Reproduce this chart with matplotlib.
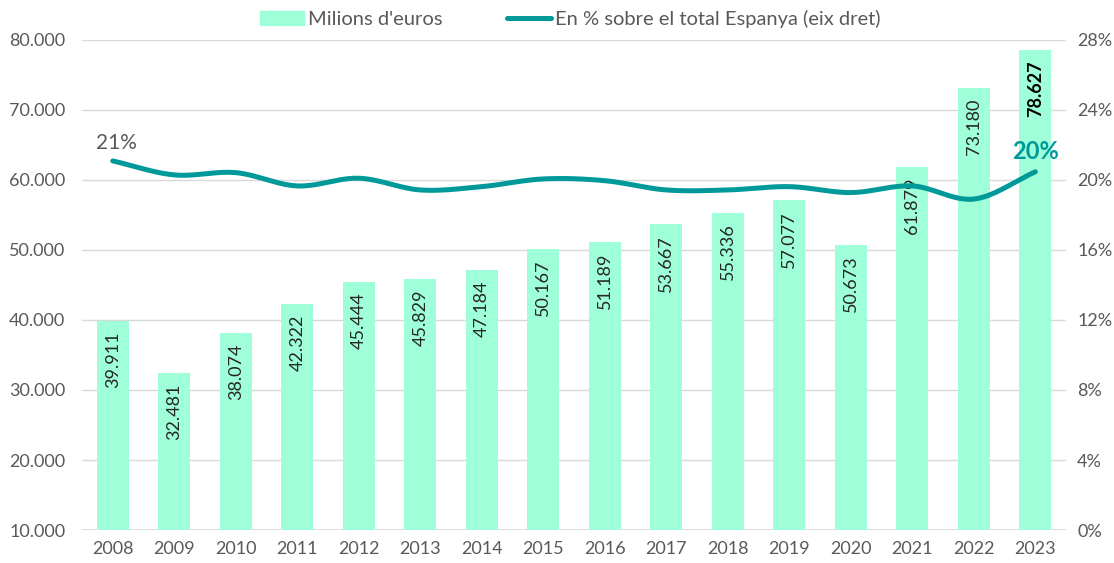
"""Bars (milions d'euros) with share of Spain total on a secondary axis."""
import numpy as np
import matplotlib.pyplot as plt
from matplotlib.ticker import FuncFormatter, MultipleLocator
from matplotlib.patches import Patch
from matplotlib.lines import Line2D

years = [str(y) for y in range(2008, 2024)]
milions = [39911, 32481, 38074, 42322, 45444, 45829, 47184, 50167,
           51189, 53667, 55336, 57077, 50673, 61879, 73180, 78627]
pct_spain = [21.09, 20.29, 20.42, 19.66, 20.10, 19.43, 19.62, 20.06,
             19.96, 19.43, 19.43, 19.62, 19.28, 19.66, 18.91, 20.47]

BAR = "#9effd8"
LINE = "#00999a"
GREY = "#595959"
GRID = "#d9d9d9"

plt.rcParams["font.family"] = ["Lato", "DejaVu Sans"]


def smooth(x, y, n=20):
    # Catmull-Rom through the points, like Excel's smoothed line
    x = np.asarray(x, float)
    y = np.asarray(y, float)
    px = np.concatenate([[2 * x[0] - x[1]], x, [2 * x[-1] - x[-2]]])
    py = np.concatenate([[2 * y[0] - y[1]], y, [2 * y[-1] - y[-2]]])
    xs, ys = [], []
    t = np.linspace(0, 1, n, endpoint=False)
    for i in range(1, len(px) - 2):
        for p, out in ((px, xs), (py, ys)):
            p0, p1, p2, p3 = p[i - 1], p[i], p[i + 1], p[i + 2]
            out.extend(0.5 * ((2 * p1) + (-p0 + p2) * t
                              + (2 * p0 - 5 * p1 + 4 * p2 - p3) * t ** 2
                              + (-p0 + 3 * p1 - 3 * p2 + p3) * t ** 3))
    xs.append(x[-1])
    ys.append(y[-1])
    return np.array(xs), np.array(ys)


fig = plt.figure(figsize=(11.14, 5.63), dpi=100)
ax = fig.add_axes([0.0736, 0.0586, 0.8834, 0.8704])
ax2 = ax.twinx()

x = np.arange(len(years))
ax.bar(x, milions, width=0.52, color=BAR, zorder=2)
ax.set_ylim(10000, 80000)
ax.set_xlim(-0.5, len(years) - 0.5)
ax.yaxis.set_major_locator(MultipleLocator(10000))
ax.yaxis.set_major_formatter(FuncFormatter(lambda v, _: f"{v:,.0f}".replace(",", ".")))
ax.set_xticks(x)
ax.set_xticklabels(years)
ax.grid(axis="y", color=GRID, linewidth=1, zorder=0)
ax.set_axisbelow(True)
ax.axhline(10000, color=GRID, linewidth=2, zorder=1)

for i, v in enumerate(milions):
    last = i == len(milions) - 1
    ax.text(i, v - 1500, f"{v:,}".replace(",", "."), rotation=90,
            ha="center", va="top", fontsize=13,
            color="black" if last else "#262626",
            fontweight="bold" if last else "normal", zorder=3)

sx, sy = smooth(x, pct_spain)
ax2.plot(sx, sy, color=LINE, linewidth=3.6, solid_capstyle="round", zorder=4)
ax2.set_ylim(0, 28)
ax2.yaxis.set_major_locator(MultipleLocator(4))
ax2.yaxis.set_major_formatter(FuncFormatter(lambda v, _: f"{v:.0f}%"))

ax2.annotate(f"{pct_spain[0]:.0f}%", (x[0], pct_spain[0]), xytext=(3, 6),
             textcoords="offset points", ha="center", va="bottom",
             fontsize=15, color=GREY)
ax2.annotate(f"{pct_spain[-1]:.0f}%", (x[-1], pct_spain[-1]), xytext=(0, 6),
             textcoords="offset points", ha="center", va="bottom",
             fontsize=17, color=LINE, fontweight="bold")

for a in (ax, ax2):
    for s in a.spines.values():
        s.set_visible(False)
    a.tick_params(length=0, labelsize=13, labelcolor=GREY)
ax.tick_params(axis="x", pad=8)
ax.tick_params(axis="y", pad=12)
ax2.tick_params(axis="y", pad=8)

handles = [Patch(color=BAR, label="Milions d'euros"),
           Line2D([0], [0], color=LINE, linewidth=3.6, solid_capstyle="round",
                  label="En % sobre el total Espanya (eix dret)")]
fig.legend(handles=handles, loc="upper center", bbox_to_anchor=(0.512, 1.015),
           ncol=2, frameon=False, fontsize=14.5, labelcolor=GREY,
           handlelength=2.2, handletextpad=0.2, columnspacing=3.2)

fig.savefig("out.png", dpi=100)
print("saved out.png")
